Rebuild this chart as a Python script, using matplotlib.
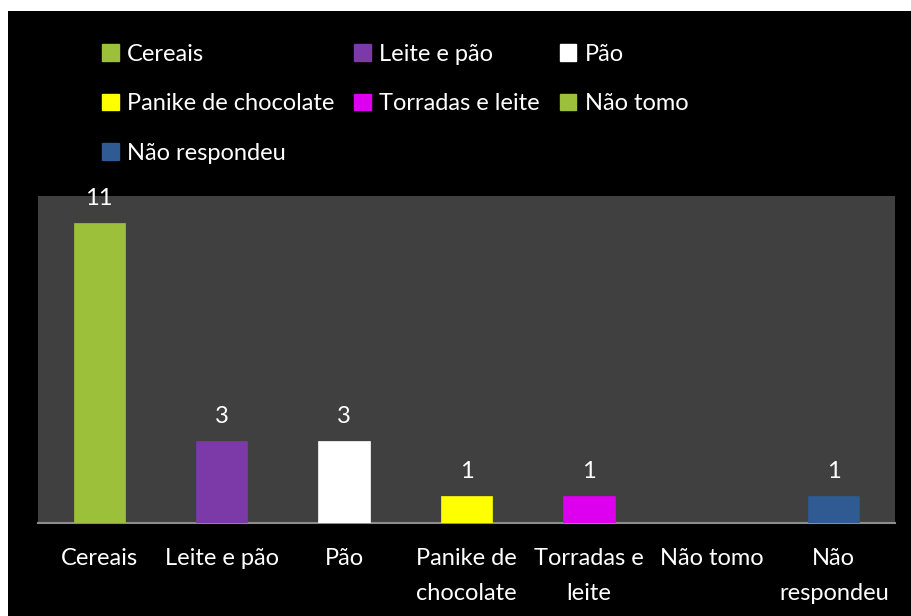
import matplotlib
matplotlib.use("Agg")
import matplotlib.pyplot as plt
from matplotlib.patches import Rectangle, Patch

categories = ["Cereais", "Leite e pão", "Pão", "Panike de\nchocolate", "Torradas e\nleite", "Não tomo", "Não\nrespondeu"]
legend_names = ["Cereais", "Leite e pão", "Pão", "Panike de chocolate", "Torradas e leite", "Não tomo", "Não respondeu"]
values = [11, 3, 3, 1, 1, 0, 1]
colors = ["#9DC03A", "#7B3AA8", "#FFFFFF", "#FFFF00", "#DD00EE", "#9DC03A", "#2F5B92"]

plt.rcParams['font.family'] = ['Lato', 'DejaVu Sans']

fig = plt.figure(figsize=(9.12, 6.16), dpi=100, facecolor="white")
fig.patches.append(Rectangle((8/912, 0), 1 - 8/912, 1 - 11/616, transform=fig.transFigure,
                             facecolor="black", edgecolor="none", zorder=-10))

ax = fig.add_axes([38/912, (616-523)/616, (895-38)/912, (523-196)/616])
ax.set_zorder(1)
ax.set_facecolor("#404040")
x = list(range(len(categories)))
bars = ax.bar(x, values, width=0.42, color=colors, edgecolor=[c for c in colors], linewidth=0.5, zorder=3)
for xi, v in zip(x, values):
    if v > 0:
        ax.annotate(str(v), (xi, v), xytext=(0, 10), textcoords="offset points",
                    ha="center", va="bottom", color="white", fontsize=17)
ax.set_xlim(-0.5, len(categories) - 0.5)
ax.set_ylim(0, 12)
ax.set_yticks([])
ax.set_xticks(x)
ax.set_xticklabels(categories, color="white", fontsize=17, linespacing=1.8)
ax.tick_params(axis="x", length=0, pad=18)
for s in ["top", "left", "right"]:
    ax.spines[s].set_visible(False)
ax.spines["bottom"].set_color("#8C8C8C")
ax.spines["bottom"].set_linewidth(1.5)

handles = [Patch(facecolor=c, edgecolor=c) for c in colors]
order = [0, 3, 6, 1, 4, 2, 5]
leg = fig.legend([handles[i] for i in order], [legend_names[i] for i in order],
                 ncol=3, loc="upper left", bbox_to_anchor=(102/912, 1 - 44/616),
                 frameon=False, fontsize=17, labelcolor="white",
                 handlelength=0.7, handleheight=0.7, handletextpad=0.35,
                 columnspacing=0.85, labelspacing=1.2, borderpad=0, borderaxespad=0)
leg.set_zorder(2)

fig.savefig("out.png", dpi=100, facecolor=fig.get_facecolor())
